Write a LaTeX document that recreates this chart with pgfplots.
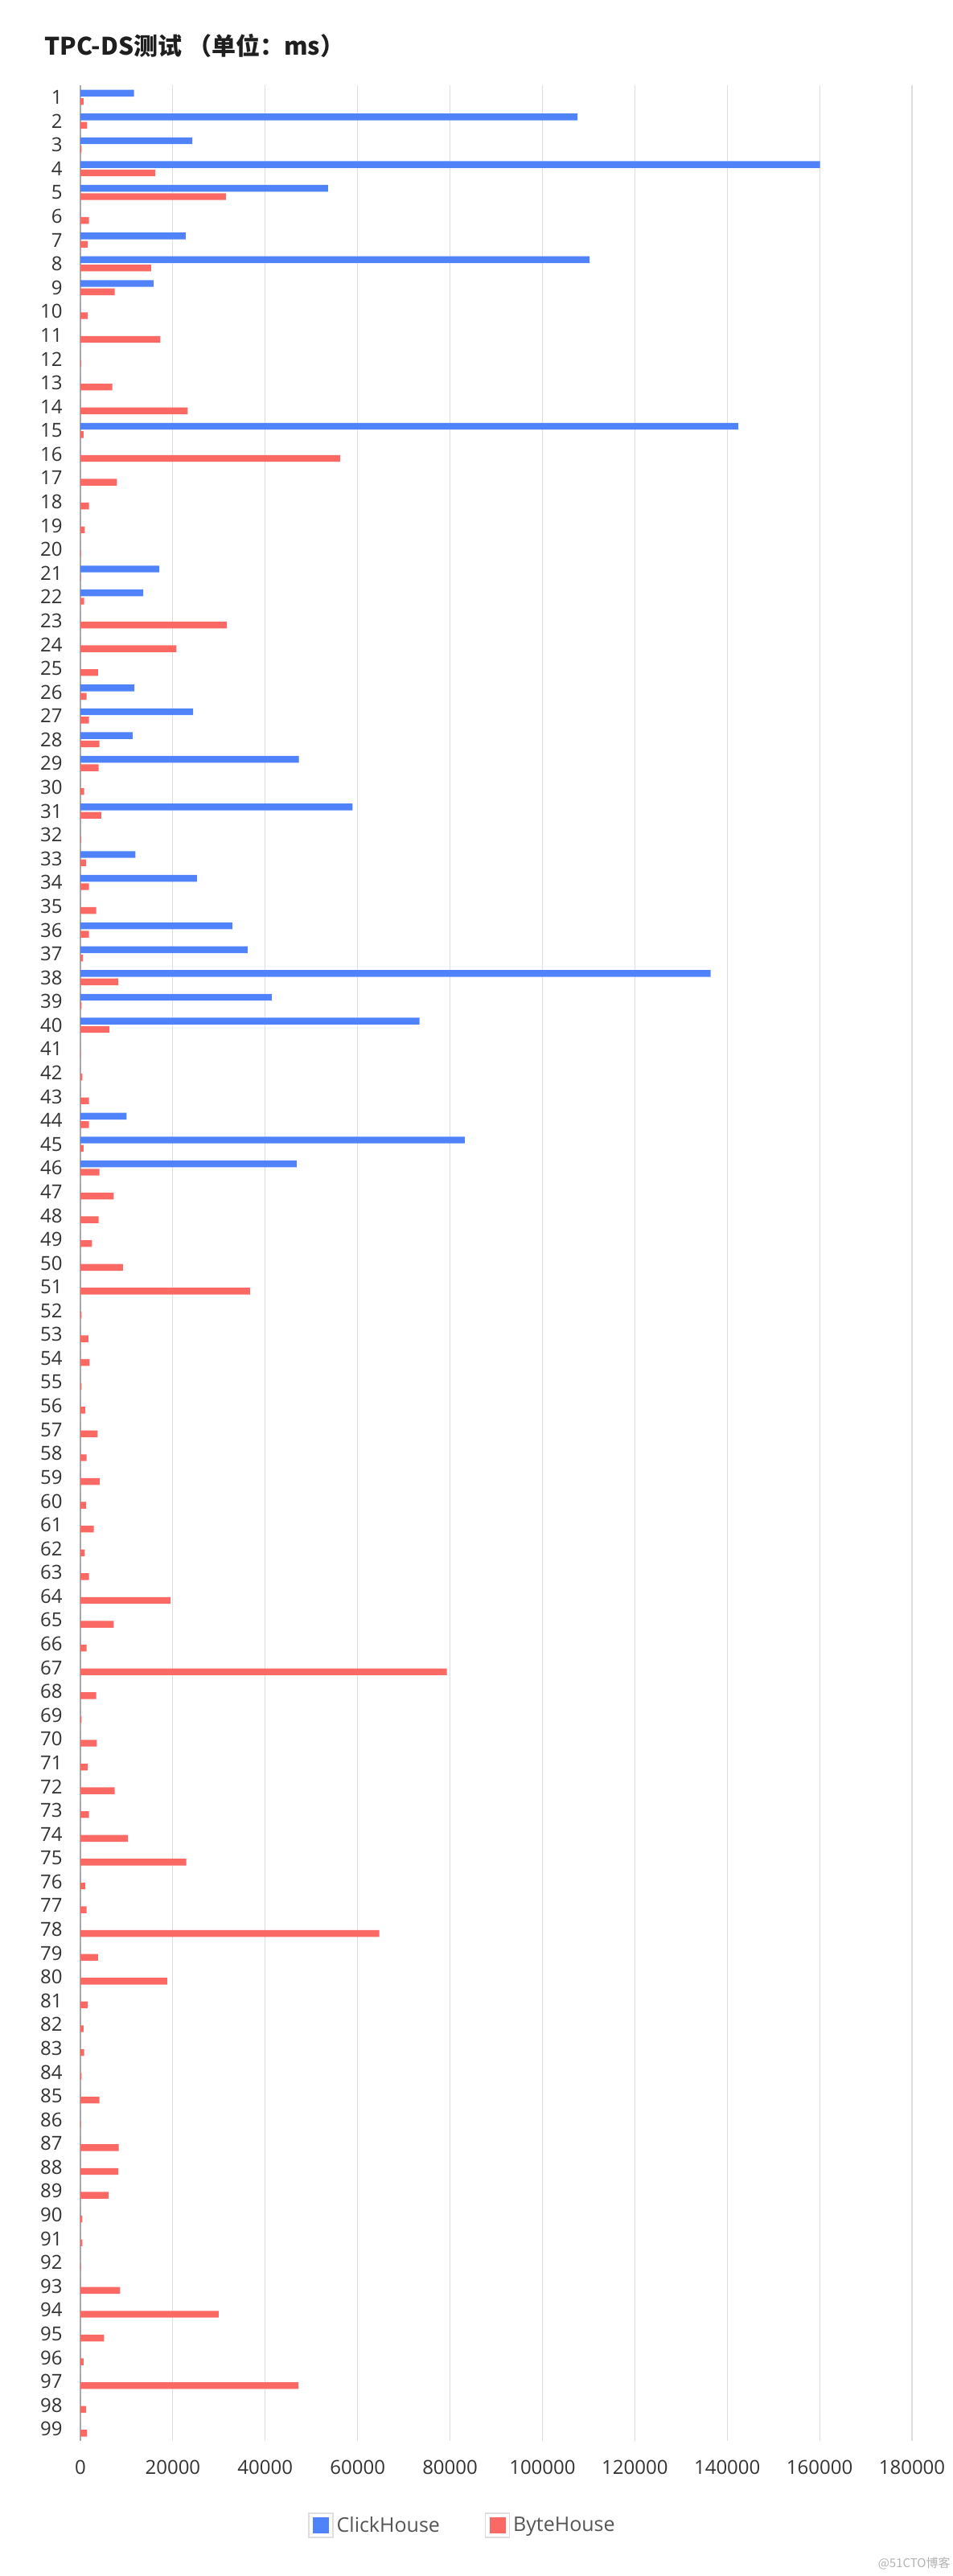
\documentclass[border=0pt]{standalone}
\usepackage{fontspec}
\setmainfont{Open Sans}
\newfontfamily\cjk{Noto Sans CJK SC}
\usepackage{pgfplots}
\usepackage{pgfplotstable}
\pgfplotsset{compat=1.18}

\definecolor{chblue}{RGB}{80,130,250}
\definecolor{bhred}{RGB}{250,105,100}
\definecolor{gridc}{RGB}{222,222,222}
\definecolor{axisc}{RGB}{170,170,170}
\definecolor{labc}{RGB}{51,51,51}
\definecolor{legc}{RGB}{85,85,85}

% query, ClickHouse (ms), ByteHouse (ms); 0 = no bar
\pgfplotstableread{
q ch bh
1 11600 660
2 107600 1450
3 24200 260
4 160100 16200
5 53600 31500
6 0 1840
7 22800 1580
8 110200 15300
9 15800 7400
10 0 1580
11 0 17300
12 0 130
13 0 6900
14 0 23200
15 142400 660
16 0 56200
17 0 7900
18 0 1840
19 0 920
20 0 130
21 17100 130
22 13600 790
23 0 31700
24 0 20800
25 0 3800
26 11700 1320
27 24400 1840
28 11300 4100
29 47300 3950
30 0 790
31 58900 4500
32 0 130
33 11900 1190
34 25200 1840
35 0 3400
36 32900 1840
37 36200 530
38 136400 8200
39 41400 260
40 73400 6300
41 0 50
42 0 400
43 0 1840
44 10000 1840
45 83200 660
46 46800 4100
47 0 7200
48 0 3950
49 0 2500
50 0 9200
51 0 36700
52 0 260
53 0 1700
54 0 2000
55 0 260
56 0 1050
57 0 3700
58 0 1320
59 0 4200
60 0 1190
61 0 2900
62 0 920
63 0 1840
64 0 19500
65 0 7200
66 0 1320
67 0 79300
68 0 3400
69 0 260
70 0 3560
71 0 1580
72 0 7400
73 0 1840
74 0 10300
75 0 22900
76 0 1050
77 0 1320
78 0 64700
79 0 3800
80 0 18800
81 0 1580
82 0 660
83 0 790
84 0 260
85 0 4100
86 0 130
87 0 8300
88 0 8200
89 0 6100
90 0 400
91 0 400
92 0 130
93 0 8600
94 0 29900
95 0 5100
96 0 660
97 0 47200
98 0 1190
99 0 1450
}\tpcds

\begin{document}
\begin{tikzpicture}
\path[use as bounding box] (-50pt,-84pt) rectangle (542pt,1517.5pt);
\begin{axis}[
    at={(0,0)}, anchor=south west,
    scale only axis, width=517pt, height=1464.5pt,
    xbar, bar width=4.2pt,
    xmin=0, xmax=180000, ymin=0.5, ymax=99.5, y dir=reverse,
    xtick={0,20000,...,180000}, ytick={1,...,99},
    scaled x ticks=false,
    /pgf/number format/fixed,
    /pgf/number format/1000 sep={},
    /pgf/number format/assume math mode=true,
    xmajorgrids, grid style={gridc, line width=0.6pt},
    axis lines*=left,
    x axis line style={draw=none},
    y axis line style={axisc, line width=1pt},
    major tick length=0pt,
    tick label style={font=\fontsize{12}{14}\selectfont, text=labc},
    xticklabel style={anchor=center, inner sep=0pt, yshift=-16.5pt},
    yticklabel style={anchor=east, inner sep=0pt, xshift=-11pt},
    legend columns=2,
    legend style={at={(0.4604,-0.03585)}, anchor=center, draw=none,
        font=\fontsize{12.5}{15}\selectfont, text=legc,
        /tikz/every even column/.append style={column sep=26pt}},
    legend image code/.code={
        \draw[draw=gridc, fill=white, line width=0.6pt] (0pt,-7.5pt) rectangle (15pt,7.5pt);
        \fill[#1, draw=none] (2.5pt,-5pt) rectangle (12.5pt,5pt);
    },
]
\addplot[fill=chblue, draw=none, bar shift=2.6pt] table[x=ch, y=q] {\tpcds};
\addlegendentry{ClickHouse}
\addplot[fill=bhred, draw=none, bar shift=-2.6pt] table[x=bh, y=q] {\tpcds};
\addlegendentry{ByteHouse}
\end{axis}
\node[anchor=west, inner sep=0pt, font=\cjk\bfseries\fontsize{15}{18}\selectfont, text=black!88] at (-22.5pt,1489pt) {TPC-DS测试 （单位：ms）};
\node[anchor=east, inner sep=0pt, font=\cjk\fontsize{7.5}{9}\selectfont, text=black!30] at (541pt,-76pt) {@51CTO博客};
\end{tikzpicture}
\end{document}
